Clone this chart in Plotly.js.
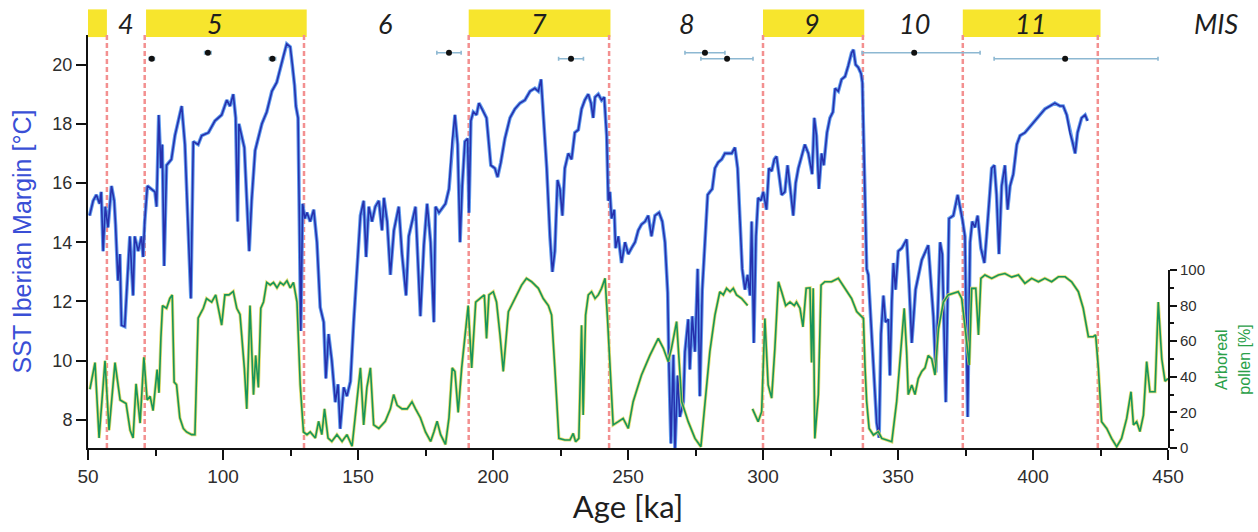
<!DOCTYPE html>
<html><head><meta charset="utf-8">
<script src="https://cdn.plot.ly/plotly-3.0.1.min.js"></script>
<style>html,body{margin:0;padding:0;background:#fff}#chart{width:1258px;height:532px}</style>
</head><body><div id="chart"></div>
<script>
// SST Iberian Margin (°C) vs Age (ka)
const sstAge = [
50.6,51.9,53.1,54.3,54.9,55.6,56.4,57.4,58.7,59.7,
60.2,61.1,61.8,62.4,63.6,64.9,65.5,66.7,67.3,68.6,
69.8,70.4,71.0,72.0,73.5,74.8,75.4,76.2,77.0,77.5,
78.2,79.1,80.9,82.2,84.7,85.9,88.1,89.0,90.8,92.1,
94.6,97.0,99.5,101.4,102.6,103.8,104.7,105.4,105.9,106.9,
107.9,109.7,110.6,111.9,114.4,116.2,118.1,119.9,121.2,122.4,
123.6,124.9,125.7,126.5,127.0,127.8,128.8,129.5,130.3,131.1,
132.3,133.6,134.8,136.0,137.3,138.1,139.1,140.3,141.6,142.6,
143.4,144.7,145.9,147.2,148.4,149.6,150.9,152.1,153.0,154.0,
155.2,156.4,157.7,158.9,159.6,160.8,162.0,163.3,165.1,166.3,
167.8,168.8,171.3,173.1,174.4,175.6,176.9,178.1,178.7,180.0,
182.4,183.7,184.9,185.9,186.9,187.8,188.6,189.6,190.6,191.1,
191.8,192.7,193.9,194.8,196.0,197.6,199.2,200.7,201.7,202.9,
204.4,206.3,208.1,210.0,211.8,213.7,215.5,216.8,217.8,218.6,
219.9,221.1,222.0,222.9,223.9,224.8,225.7,226.6,227.9,229.1,
230.3,231.6,232.8,234.0,235.3,236.3,237.1,237.8,239.0,240.2,
241.2,242.1,242.7,243.3,243.9,244.9,245.4,246.4,247.6,248.9,
250.1,251.3,252.6,253.8,255.0,256.3,257.5,258.7,260.0,261.5,
262.7,263.7,264.7,265.2,265.9,266.8,267.4,268.4,269.2,270.5,
271.1,272.3,272.9,273.8,274.8,275.8,276.6,277.5,278.5,279.5,
280.3,281.2,282.2,283.4,284.7,285.9,287.1,288.4,289.6,290.6,
291.5,292.3,293.3,294.3,295.2,295.8,296.6,297.4,298.2,299.2,
300.1,301.3,302.2,303.2,304.2,305.0,305.9,306.9,308.1,309.1,
310.0,311.2,312.1,313.1,314.3,315.5,316.8,318.2,319.0,319.8,
320.7,321.7,322.5,323.7,324.8,325.9,326.7,327.9,329.1,330.4,
331.6,332.8,333.5,334.3,335.3,336.3,336.8,337.5,338.4,339.0,
340.2,341.2,342.1,343.0,343.7,344.6,345.4,346.4,347.0,347.7,
348.3,349.1,350.1,351.4,353.2,354.1,355.1,356.5,358.8,361.2,
362.2,363.1,364.0,365.6,366.4,367.7,368.9,370.5,372.1,373.0,
373.8,374.8,375.8,376.7,377.5,378.5,379.5,380.7,382.0,382.8,
383.7,384.7,385.7,386.5,387.4,388.4,389.6,390.6,391.5,392.7,
394.0,395.2,397.0,398.9,400.7,402.6,404.4,406.3,408.1,410.0,
411.2,412.5,413.7,414.6,415.6,416.5,418.0,419.3,420.2
];
const sstVal = [
14.9,15.4,15.6,15.3,15.7,13.7,15.2,14.5,15.9,15.4,
14.6,12.7,13.6,11.2,11.15,13.1,14.2,12.2,14.2,13.7,
14.2,13.5,14.7,15.9,15.8,15.7,15.2,18.3,16.5,17.3,
13.2,16.6,16.8,17.6,18.6,17.3,12.1,17.4,17.3,17.6,
17.7,18.1,18.3,18.8,18.6,19.0,18.2,14.7,18.0,17.6,
17.2,13.7,15.4,17.1,18.0,18.4,19.1,19.4,19.9,20.3,
20.7,20.6,20.0,19.3,18.6,18.2,11.0,15.3,14.8,15.0,
14.7,15.1,14.0,11.8,11.3,9.4,10.9,10.0,8.6,9.2,
7.7,9.1,8.8,9.3,11.3,13.2,14.9,15.4,13.5,15.2,
14.7,15.2,15.4,14.4,15.5,14.7,12.9,14.4,15.2,13.6,
12.2,14.2,15.2,11.5,13.9,15.3,14.0,11.3,15.2,15.0,
15.3,15.8,17.4,18.3,17.3,14.0,15.9,17.4,17.5,15.0,
18.1,18.4,18.3,18.7,18.5,18.2,16.6,16.5,16.2,16.7,
17.5,18.2,18.5,18.7,18.8,19.1,19.2,19.1,19.5,18.4,
16.5,14.2,13.0,13.7,16.1,15.8,14.9,16.5,17.0,16.8,
17.7,17.8,18.5,18.8,19.0,18.7,18.2,18.9,19.0,18.8,
18.9,17.6,15.4,15.7,14.8,15.1,13.8,14.2,13.3,14.0,
13.6,13.8,14.0,14.4,14.6,14.7,14.9,14.2,14.9,15.0,
14.7,14.0,12.3,9.7,7.2,10.2,7.0,9.5,8.1,8.6,
10.3,11.4,9.7,11.5,10.3,13.1,8.8,12.4,14.2,15.6,
15.7,15.8,16.5,16.7,16.8,17.0,17.0,17.0,17.2,16.5,
14.7,13.1,12.4,12.9,12.2,14.7,10.6,14.2,15.5,15.4,
15.7,15.1,16.5,16.4,16.8,16.9,16.3,15.6,15.7,16.6,
15.9,14.9,16.0,16.5,16.9,17.3,17.0,16.3,18.2,17.6,
15.8,17.0,16.6,17.7,18.2,18.4,19.2,19.1,19.5,19.6,
19.97,20.4,20.5,20.0,19.9,19.7,19.4,16.5,13.1,12.9,
10.9,9.1,7.9,7.4,10.9,12.2,11.3,11.4,9.5,12.0,
13.3,12.4,13.7,13.8,14.1,12.6,10.6,12.4,13.4,13.9,
12.7,11.5,9.6,14.0,13.6,8.6,14.8,14.9,15.6,15.2,
14.8,14.2,8.1,14.0,14.7,14.5,14.9,13.8,13.3,14.2,
15.4,16.5,16.6,15.6,13.6,15.9,16.6,15.1,15.9,16.3,
17.3,17.6,17.7,17.9,18.1,18.3,18.5,18.6,18.7,18.6,
18.6,18.3,17.7,17.4,17.0,17.7,18.2,18.3,18.1
];

// Arboreal pollen (%) vs Age (ka)
const pollenAge = [
50.7,52.6,54.1,56.3,57.8,60.0,61.9,64.1,65.6,66.7,
67.8,69.3,70.7,71.9,73.0,74.1,75.6,76.3,77.0,77.6,
79.1,80.3,81.2,81.9,82.8,84.0,85.3,86.5,88.4,89.6,
90.8,92.7,93.9,95.8,97.3,98.5,99.5,100.7,102.2,103.8,
105.1,106.3,107.9,108.8,110.0,111.3,112.1,113.1,114.0,115.0,
116.2,117.5,118.7,120.0,121.2,122.4,123.7,124.9,126.1,127.4,
128.6,129.8,131.1,132.3,134.2,135.4,136.6,137.6,138.9,140.3,
142.2,144.1,145.9,147.8,149.0,150.0,150.9,152.1,153.3,154.6,
155.8,157.7,160.1,162.0,163.2,164.5,166.3,168.2,170.0,171.3,
173.1,175.0,176.9,178.1,179.3,180.6,182.4,183.7,184.9,185.9,
187.1,188.4,190.8,192.1,193.6,195.2,196.8,197.6,198.5,200.1,
201.3,202.6,203.8,205.7,208.1,210.6,212.4,214.3,216.8,218.6,
220.5,221.7,222.9,224.4,226.6,228.5,229.7,230.6,231.8,232.8,
233.4,234.3,235.3,236.5,237.8,239.0,240.2,241.5,242.4,243.3,
244.5,246.4,248.2,250.1,251.9,255.0,258.1,261.2,263.1,264.9,
266.1,268.0,269.9,272.3,274.8,277.0,278.5,280.3,282.2,284.0,
285.3,286.5,287.8,289.0,290.2,292.1,294.3,295.2,296.1,298.2,
299.5,300.7,301.9,303.2,304.4,305.7,306.9,308.4,310.0,311.6,
312.4,313.7,314.8,316.0,317.4,318.0,318.6,319.2,320.5,321.5,
322.9,325.4,327.9,329.1,331.0,332.8,334.7,336.3,337.2,337.8,
338.4,339.3,340.9,342.7,344.0,345.8,347.7,349.5,351.1,352.3,
353.2,353.8,355.1,356.3,357.5,358.8,360.0,361.2,362.5,363.7,
365.0,366.8,368.6,370.5,372.3,373.6,374.8,375.8,376.4,377.3,
378.8,379.8,380.7,382.2,384.7,387.2,389.6,392.1,394.6,397.0,
399.5,402.0,404.4,406.9,409.4,411.9,414.3,416.8,418.6,420.5,
422.3,423.2,424.2,425.4,427.3,429.1,431.0,432.8,434.7,436.3,
437.2,438.4,439.6,440.9,442.1,443.3,445.2,446.4,447.7,448.9,
450.0
];
const pollenVal = [
33,48,5.6,49,10,48,27,25,10,5.6,
36,14,51,27,29,21,44,31,62,80,
78.5,84,86,37,35.5,17,11,9,7.5,7.5,
73,78.5,84,82,86,76.6,69,86,86,88,
78.5,75,45,22,80,30,52,34,78.5,82,
93,91.6,93,90,93,91.6,94,90,93,82,
35.5,9,7.5,9,5.6,15,7.5,22,5.6,3.7,
7.5,3.7,7.5,1,19,35.5,45,13,34,45,
13,11,15,22,30,24,22,22,26,22,
17,9,3.7,9,15,7.5,2,17,45,43,
20,45,80,45,82,84,86,61.6,86,87.8,
82,63.5,43,76.6,84,91.5,95.3,93.4,89.7,84,
80,74.7,45,5.4,4.5,4.5,8.2,3.5,5.4,69,
18.5,74.7,86,87.8,84,86,89.7,95.3,72.8,45,
13,14.8,16.6,11,26,41,52,61.6,56,48.5,
56,71,26,14.8,5.4,0.7,26,54,74.7,87.8,
86,89.7,87.8,89.7,86,84,80,null,22,14.8,
20.4,72.8,35.4,28,56,93.4,87.8,80,82,80,
82,78.5,68,89.7,90,48,89.7,5.4,30,91.5,
93.4,93.4,95.3,92.5,87.8,84,76.6,73.8,72.8,45,
26,11,7.3,9.2,5.4,4.5,3.5,26,54,78.5,
54,30,35.4,30,39,43,45,52,50,41,
67,82,86,86.9,87.8,84,67,54,46.6,89.7,
89.7,63.5,95.3,97.2,95.3,97.2,98,96,97.2,92.5,
95.3,93.4,95.3,93.4,96.2,96.2,93.4,87.8,78.5,62.5,
62.5,63.5,45,14.8,11,5.4,0.7,5.4,16.6,31.6,
13,14.8,9.2,18.5,48.5,31.6,31.6,82,50,37.5,
39
];

// Marine isotope stages
const misLabels = ['4','5','6','7','8','9','10','11'];
const misLabelAge = [64,97,160,217,272,318,356,399];
const warmStart = [50,71.5,191,300,374];
const warmEnd = [57,131,243.5,337.5,425];
const stageBoundaries = [57,71,130,191,243,300,337,374,424];

// Dated tie points (age, uncertainty)
const datedAge = [73.6,94.4,118.3,183.7,228.9,278.5,286.7,356,411.9];
const datedErrMinus = [1,1.2,1.2,4.5,4.6,7.4,9.7,19.3,26.3];
const datedErrPlus = [1,1.2,1.2,4.5,4.6,7.4,9.6,24.4,34.4];
const datedRow = [20.2,20.4,20.2,20.4,20.2,20.4,20.2,20.4,20.2];

const xTicks = [50,100,150,200,250,300,350,400,450];
const yTicks = [8,10,12,14,16,18,20];
const y2Ticks = [0,20,40,60,80,100];

const shapes = [];
for (let i = 0; i < warmStart.length; i++) {
  shapes.push({type:'rect', xref:'x', yref:'paper', x0:warmStart[i], x1:warmEnd[i], y0:0.995, y1:1.062,
    fillcolor:'#f7e52d', line:{width:0}, layer:'below'});
}
for (const b of stageBoundaries) {
  shapes.push({type:'line', xref:'x', yref:'paper', x0:b, x1:b, y0:0, y1:1,
    line:{color:'#f39090', width:2.5, dash:'5px,3px'}, layer:'below'});
}

const annotations = misLabels.map((t,i) => ({
  text:t, x:misLabelAge[i], xref:'x', y:1.028, yref:'paper', showarrow:false,
  xanchor:'center', yanchor:'middle',
  font:{family:'Lato, "Open Sans", sans-serif', size:27, color:'#1e1e1e', style:'italic'}
}));
annotations.push({text:'MIS', x:1.044, xref:'paper', y:1.028, yref:'paper', showarrow:false,
  xanchor:'center', yanchor:'middle', font:{family:'Lato, "Open Sans", sans-serif', size:27, color:'#1e1e1e', style:'italic'}});
annotations.push({text:'Arboreal', x:1.049, xref:'paper', y:0.213, yref:'paper', showarrow:false, textangle:-90,
  xanchor:'center', yanchor:'middle', font:{family:'"Liberation Sans", Arial, sans-serif', size:16, color:'#2aa048'}});
annotations.push({text:'pollen [%]', x:1.07, xref:'paper', y:0.213, yref:'paper', showarrow:false, textangle:-90,
  xanchor:'center', yanchor:'middle', font:{family:'"Liberation Sans", Arial, sans-serif', size:16, color:'#2aa048'}});

const traces = [
  {x:sstAge, y:sstVal, type:'scatter', mode:'lines', xaxis:'x', yaxis:'y',
   line:{color:'rgba(70,140,235,0.85)', width:3.6}, hoverinfo:'skip'},
  {x:sstAge, y:sstVal, type:'scatter', mode:'lines', xaxis:'x', yaxis:'y',
   line:{color:'#2631ad', width:1.6}, name:'SST'},
  {x:datedAge, y:datedRow, type:'scatter', mode:'markers', xaxis:'x', yaxis:'y',
   marker:{color:'#111', size:6},
   error_x:{type:'data', symmetric:false, array:datedErrPlus, arrayminus:datedErrMinus, color:'#8db8d2', thickness:1.6, width:2}},
  {x:pollenAge, y:pollenVal, type:'scatter', mode:'lines', xaxis:'x', yaxis:'y2', connectgaps:false,
   line:{color:'rgba(225,215,90,0.85)', width:3.2}, hoverinfo:'skip'},
  {x:pollenAge, y:pollenVal, type:'scatter', mode:'lines', xaxis:'x', yaxis:'y2', connectgaps:false,
   line:{color:'#17955a', width:1.6}, name:'Arboreal pollen'}
];

const tickFont = {family:'"Liberation Sans", Arial, sans-serif', size:18, color:'#2e2e2e'};
const layout = {
  width:1258, height:532,
  margin:{l:88, r:90, t:35, b:84},
  paper_bgcolor:'#ffffff', plot_bgcolor:'rgba(0,0,0,0)',
  showlegend:false, hovermode:false,
  xaxis:{range:[50,450], tickmode:'array', tickvals:xTicks, ticks:'outside', ticklen:10, tickwidth:2, tickcolor:'#111',
    showline:true, linecolor:'#111', linewidth:2, showgrid:false, zeroline:false,
    tickfont:{family:'"Liberation Sans", Arial, sans-serif', size:19, color:'#2e2e2e'},
    minor:{tickmode:'array', tickvals:[75,125,175,225,275,325,375,425], ticks:'outside', ticklen:6, tickwidth:2, tickcolor:'#111'},
    title:{text:'Age [ka]', font:{family:'Lato, "Open Sans", sans-serif', size:31, color:'#1e1e1e'}, standoff:6}},
  yaxis:{range:[7.05,21], tickmode:'array', tickvals:yTicks, ticks:'outside', ticklen:10, tickwidth:2, tickcolor:'#111',
    showline:true, linecolor:'#111', linewidth:2, showgrid:false, zeroline:false, tickfont:tickFont,
    title:{text:'SST Iberian Margin [°C]', font:{family:'"Liberation Sans", Arial, sans-serif', size:25, color:'#3a4fd6'}, standoff:14}},
  yaxis2:{domain:[0,0.431], range:[0,100], anchor:'x', side:'right', tickmode:'array', tickvals:y2Ticks,
    ticks:'outside', ticklen:7, tickwidth:2, tickcolor:'#111',
    showline:true, linecolor:'#111', linewidth:2, showgrid:false, zeroline:false,
    tickfont:{family:'"Liberation Sans", Arial, sans-serif', size:15, color:'#2e2e2e'},
    minor:{tickmode:'array', tickvals:[10,30,50,70,90], ticks:'outside', ticklen:4, tickwidth:2, tickcolor:'#111'}},
  shapes:shapes,
  annotations:annotations
};
Plotly.newPlot('chart', traces, layout, {displayModeBar:false, staticPlot:true});
</script></body></html>
